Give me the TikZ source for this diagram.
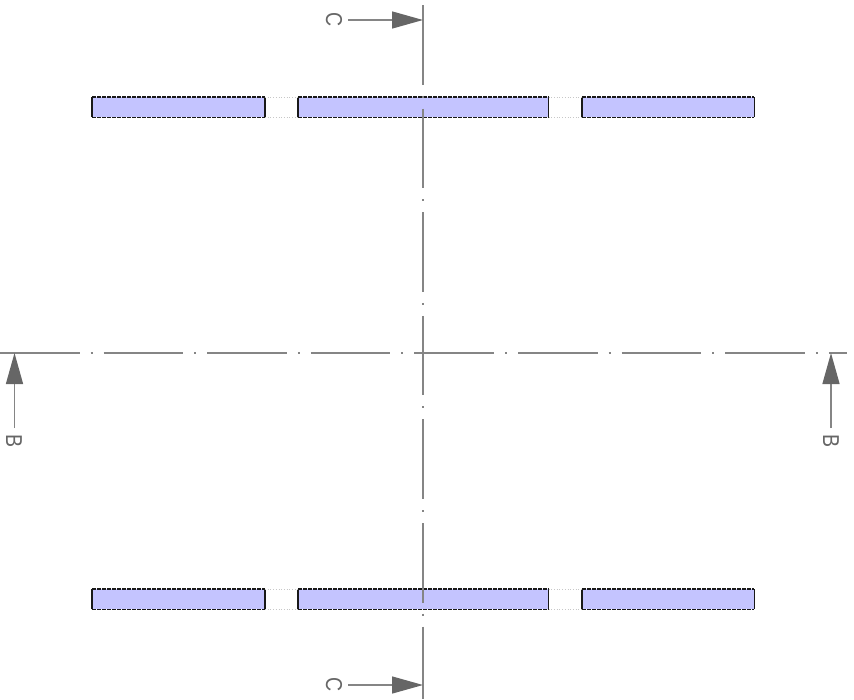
\documentclass[tikz,border=0pt]{standalone}
\usepackage{fontspec}
\setmainfont{Liberation Sans}
\usetikzlibrary{positioning, arrows.meta}
\definecolor{platefill}{HTML}{C4C4FF}
\definecolor{axisgray}{HTML}{858585}
\definecolor{tipgray}{HTML}{666666}
\tikzstyle{plate} = [fill=platefill,inner sep=0pt,minimum height=20pt,anchor=north west]
\tikzstyle{edge} = [line width=1.4pt,black!90,dash pattern=on 4pt off 1pt]
\tikzstyle{side} = [line width=1.5pt,black!90]
\tikzstyle{gapline} = [line width=0.7pt,black!22,dotted]
\tikzstyle{centerline} = [line width=1.7pt,axisgray,dash pattern=on 79.6pt off 11pt on 2pt off 11pt]
\tikzstyle{cutarrow} = [line width=1.4pt,axisgray,-{Triangle[length=31pt,width=17pt,color=tipgray]}]
\tikzstyle{cutlabel} = [font=\fontsize{23}{23}\selectfont,text=tipgray,inner sep=0pt,rotate=-90,xscale=0.85]

\begin{document}
\begin{tikzpicture}[x=1pt,y=-1pt]
        \useasboundingbox (0,0) rectangle (854,699);
        % plates
        \foreach \row/\ypos in {top/97, bot/589} {
            \node[plate,minimum width=172.6pt] (\row l) at (92,\ypos) {};
            \node[plate,minimum width=250.2pt] (\row m) at (298,\ypos) {};
            \node[plate,minimum width=172pt] (\row r) at (582,\ypos) {};
            \foreach \part in {l,m,r} {
                \draw[edge] (\row\part.north west) -- (\row\part.north east);
                \draw[edge] (\row\part.south west) -- (\row\part.south east);
                \draw[side] (\row\part.north west) -- (\row\part.south west);
                \draw[side] (\row\part.north east) -- (\row\part.south east);
            }
            \draw[gapline] (\row l.north east) -- (\row m.north west);
            \draw[gapline] (\row l.south east) -- (\row m.south west);
            \draw[gapline] (\row m.north east) -- (\row r.north west);
            \draw[gapline] (\row m.south east) -- (\row r.south west);
        }
        % center lines
        \coordinate (vtop) at (423,5);
        \coordinate (vbot) at (423,699);
        \coordinate (hleft) at (0,353);
        \coordinate (hright) at (847,353);
        \draw[centerline] (vtop) -- (vbot);
        \draw[centerline] (hleft) -- (hright);
        % section marks
        \node[cutlabel] (ctop) at (334,20) {C};
        \node[cutlabel] (cbot) at (334,685) {C};
        \node[cutlabel] (bleft) at (14,441) {B};
        \node[cutlabel] (bright) at (831,441) {B};
        \coordinate (ctoptip) at (423,20);
        \coordinate (cbottip) at (423,685);
        \coordinate (blefttip) at (14.5,353);
        \coordinate (brighttip) at (831,353);
        \draw[cutarrow] (348,20) -- (ctoptip);
        \draw[cutarrow] (348,685) -- (cbottip);
        \draw[cutarrow] (14.5,428) -- (blefttip);
        \draw[cutarrow] (831,428) -- (brighttip);
\end{tikzpicture}
\end{document}
